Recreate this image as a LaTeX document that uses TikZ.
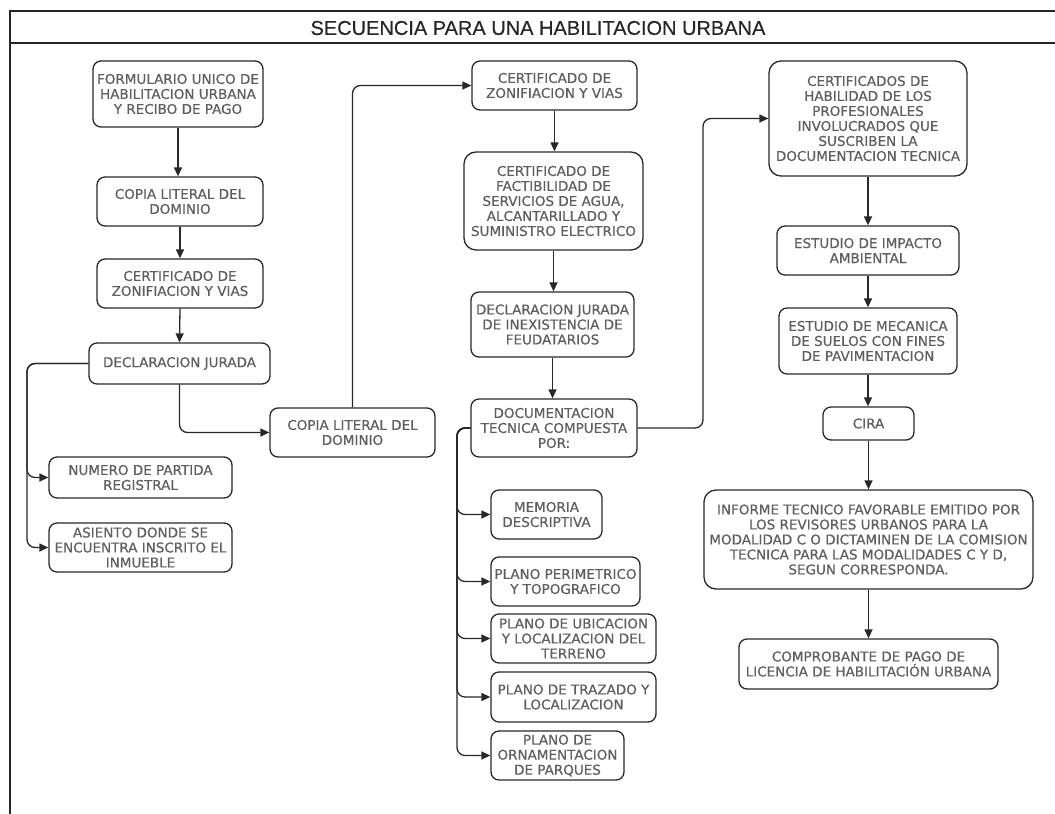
\documentclass[tikz,border=0pt]{standalone}
\usepackage{fontspec}
\setmainfont{DejaVu Sans}
\newfontfamily\boxfont{DejaVu Sans}[FakeBold=0.6]
\newfontfamily\titlefont{Liberation Sans}[FakeBold=0.4]
\usetikzlibrary{arrows.meta,calc}
\definecolor{txt}{RGB}{95,95,95}
\definecolor{edge}{RGB}{40,40,40}
\begin{document}
\begin{tikzpicture}[x=1pt,y=-1pt,
  box/.style={draw=edge,line width=1.3pt,rounded corners=8pt,inner sep=0pt,
    align=center,text=txt,font=\boxfont\fontsize{13.5}{15}\selectfont},
  bigbox/.style={box,rounded corners=12pt},
  conn/.style={draw=edge,line width=1.3pt,rounded corners=8pt,
    -{Triangle[length=9pt,width=8pt]}},
  frame/.style={draw=black!85,line width=1.5pt}]
\useasboundingbox (0,0) rectangle (1055,814);
% frame
\draw[frame] (1055,11) -- (10,11) -- (10,814);
\draw[frame] (10,43) -- (1055,43);
\node[inner sep=0pt,text=black!85,font=\titlefont\fontsize{20}{22}\selectfont] (title) at (538,28) {SECUENCIA PARA UNA HABILITACION URBANA};
% column 1
\node[box,minimum width=170pt,minimum height=66pt] (f1) at (178,94) {FORMULARIO UNICO DE\\HABILITACION URBANA\\Y RECIBO DE PAGO};
\node[box,minimum width=166pt,minimum height=49pt] (c1) at (180,201.5) {COPIA LITERAL DEL\\DOMINIO};
\node[box,minimum width=166pt,minimum height=49pt] (z1) at (180,283.5) {CERTIFICADO DE\\ZONIFIACION Y VIAS};
\node[box,minimum width=181pt,minimum height=41pt] (dj) at (179.5,363.5) {DECLARACION JURADA};
\node[box,minimum width=183pt,minimum height=41pt] (np) at (140.5,477.5) {NUMERO DE PARTIDA\\REGISTRAL};
\node[box,minimum width=183pt,minimum height=49pt] (as) at (140.5,547.5) {ASIENTO DONDE SE\\ENCUENTRA INSCRITO EL\\INMUEBLE};
\node[box,minimum width=165pt,minimum height=49pt] (c2) at (352.5,432.5) {COPIA LITERAL DEL\\DOMINIO};
% column 2
\node[box,minimum width=165pt,minimum height=49pt] (z2) at (554.5,85.5) {CERTIFICADO DE\\ZONIFIACION Y VIAS};
\node[bigbox,minimum width=179pt,minimum height=98pt] (fa) at (553.5,201) {CERTIFICADO DE\\FACTIBILIDAD DE\\SERVICIOS DE AGUA,\\ALCANTARILLADO Y\\SUMINISTRO ELECTRICO};
\node[box,minimum width=163pt,minimum height=65pt] (di) at (552.5,324.5) {DECLARACION JURADA\\DE INEXISTENCIA DE\\FEUDATARIOS};
\node[box,minimum width=166pt,minimum height=58pt] (dt) at (554,428) {DOCUMENTACION\\TECNICA COMPUESTA\\POR:};
\node[box,minimum width=111pt,minimum height=49pt] (me) at (546.5,514.5) {MEMORIA\\DESCRIPTIVA};
\node[box,minimum width=149pt,minimum height=49pt] (pp) at (565.5,581.5) {PLANO PERIMETRICO\\Y TOPOGRAFICO};
\node[box,minimum width=165pt,minimum height=49pt] (pu) at (573.5,638.5) {PLANO DE UBICACION\\Y LOCALIZACION DEL\\TERRENO};
\node[box,minimum width=165pt,minimum height=50pt] (pt) at (573.5,697) {PLANO DE TRAZADO Y\\LOCALIZACION};
\node[box,minimum width=133pt,minimum height=49pt] (po) at (557.5,755.5) {PLANO DE\\ORNAMENTACION\\DE PARQUES};
% column 3
\node[bigbox,minimum width=198pt,minimum height=115pt] (ch) at (868,118.5) {CERTIFICADOS DE\\HABILIDAD DE LOS\\PROFESIONALES\\INVOLUCRADOS QUE\\SUSCRIBEN LA\\DOCUMENTACION TECNICA};
\node[box,minimum width=182pt,minimum height=49pt] (ei) at (868,250.5) {ESTUDIO DE IMPACTO\\AMBIENTAL};
\node[box,minimum width=178pt,minimum height=66pt] (em) at (868,341) {ESTUDIO DE MECANICA\\DE SUELOS CON FINES\\DE PAVIMENTACION};
\node[box,minimum width=91pt,minimum height=33pt] (ci) at (868.5,423.5) {CIRA};
\node[bigbox,minimum width=329pt,minimum height=99pt] (in) at (868.5,539.5) {INFORME TECNICO FAVORABLE EMITIDO POR\\LOS REVISORES URBANOS PARA LA\\MODALIDAD C O DICTAMINEN DE LA COMISION\\TECNICA PARA LAS MODALIDADES C Y D,\\SEGUN CORRESPONDA.};
\node[box,minimum width=259pt,minimum height=50pt] (cp) at (868.5,664) {COMPROBANTE DE PAGO DE\\LICENCIA DE HABILITACIÓN URBANA};
% helper coordinates
\coordinate (L1) at (27,0);
\coordinate (L2) at (457,0);
\coordinate (R1) at (703,0);
% connectors column 1
\draw[conn] (f1.south) -- (f1.south |- c1.north);
\draw[conn] (c1.south) -- (z1.north);
\draw[conn] (z1.south) -- (dj.south |- dj.north);
\draw[conn] (dj.west) -- (L1 |- dj.west) -- (L1 |- np.west) -- (np.west);
\draw[conn] (dj.west) -- (L1 |- dj.west) -- (L1 |- as.west) -- (as.west);
\draw[conn] (dj.south) |- (c2.west);
\draw[conn] (c2.north) |- (z2.west);
% column 2
\draw[conn] (z2.south) -- (z2.south |- fa.north);
\draw[conn] (fa.south) -- (fa.south |- di.north);
\draw[conn] (di.south) -- (di.south |- dt.north);
\draw[conn] (dt.east) -- (R1 |- dt.east) -- (R1 |- ch.west) -- (ch.west);
\foreach \t in {me,pp,pu,pt,po}{
  \draw[conn] (dt.west) -- (L2 |- dt.west) -- (L2 |- \t.west) -- (\t.west);
}
% column 3
\draw[conn] (ch.south) -- (ei.north);
\draw[conn] (ei.south) -- (em.north);
\draw[conn] (em.south) -- (em.south |- ci.north);
\draw[conn] (ci.south) -- (ci.south |- in.north);
\draw[conn] (in.south) -- (cp.north);
\end{tikzpicture}
\end{document}
